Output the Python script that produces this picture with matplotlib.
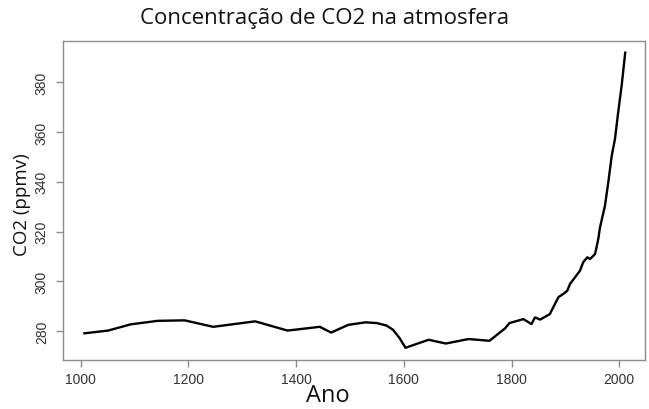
import matplotlib
matplotlib.use("Agg")
import matplotlib.pyplot as plt

# valores (ano, CO2 em ppmv)
anos = [1007, 1051, 1093, 1143, 1193, 1246, 1324, 1384, 1444, 1465, 1497, 1529,
        1550, 1568, 1580, 1592, 1603, 1646, 1678, 1720, 1759, 1788, 1796, 1822, 1837,
        1843.5, 1853, 1871, 1887, 1896, 1903.5, 1908.5, 1927, 1933, 1940.6, 1945.6,
        1955, 1961, 1964, 1973.4, 1979.6, 1986, 1992, 1998, 2004.4, 2011]
co2 = [279.2, 280.3, 282.8, 284.2, 284.4, 281.8, 284.0, 280.3, 281.8, 279.5, 282.6, 283.6,
       283.3, 282.3, 280.6, 277.3, 273.4, 276.6, 275.1, 276.9, 276.2, 281.2, 283.3, 284.9,
       282.9, 285.6, 284.7, 286.9, 293.7, 295.0, 296.3, 299.0, 304.3, 307.7, 309.7, 309.0,
       311.0, 317.0, 321.5, 330.4, 339.8, 350.5, 357.2, 368.0, 378.6, 391.8]
xticks = [1000, 1200, 1400, 1600, 1800, 2000]
yticks = [280, 300, 320, 340, 360, 380]

cinza = "#8c8c8c"
fig = plt.figure(figsize=(6.49, 4.10), dpi=100)
ax = fig.add_axes([0.0966, 0.1202, 0.8972, 0.7774])
ax.plot(anos, co2, color="black", lw=1.7)
ax.set_xlim(966.6, 2047.7)
ax.set_ylim(268.6, 396.5)

ax.set_xticks(xticks)
ax.set_yticks(yticks)
for s in ax.spines.values():
    s.set_color(cinza)
    s.set_linewidth(1.0)
ax.tick_params(color=cinza, length=5, width=1.0, labelcolor="#333333", labelsize=10)
for lab in ax.get_xticklabels() + ax.get_yticklabels():
    lab.set_family("Liberation Sans")
ax.tick_params(axis="x", pad=4)
ax.tick_params(axis="y", pad=5)
plt.setp(ax.get_yticklabels(), rotation=90, va="center")

fig.text(0.5, 0.955, "Concentração de CO2 na atmosfera", ha="center", va="center",
         fontsize=16, family="Open Sans", color="#111111")
fig.text(0.505, 0.035, "Ano", ha="center", va="center", fontsize=17,
         family="Open Sans", color="#111111")
fig.text(0.034, 0.5, "CO2 (ppmv)", ha="center", va="center", rotation=90,
         fontsize=13.5, family="Open Sans", color="#111111")

fig.savefig("out.png", dpi=100)
